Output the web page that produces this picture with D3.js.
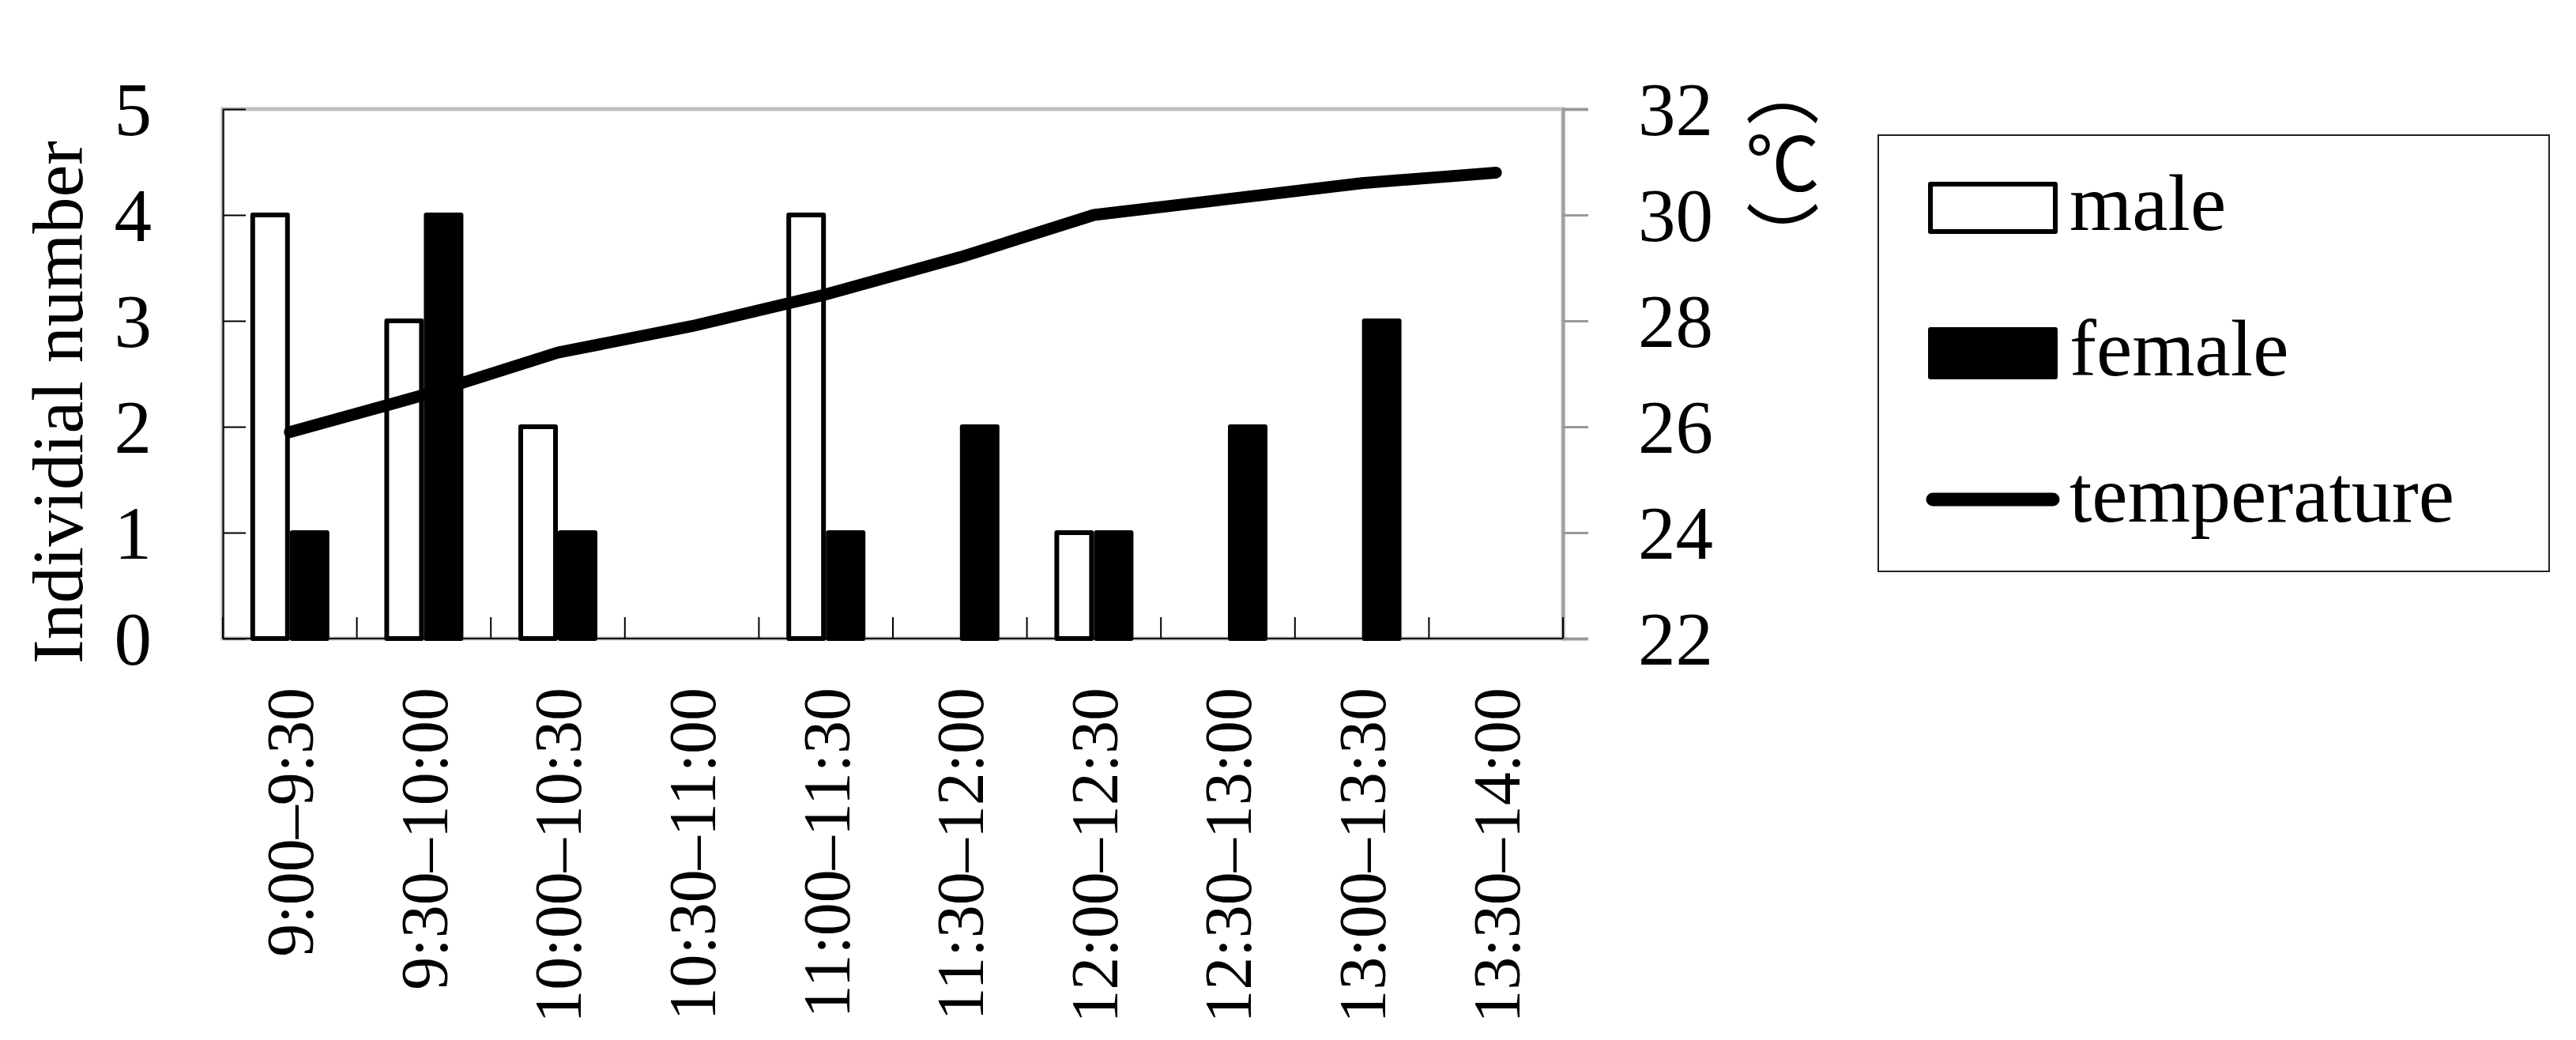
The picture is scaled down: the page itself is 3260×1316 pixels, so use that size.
<!DOCTYPE html>
<html>
<head>
<meta charset="utf-8">
<script src="https://cdn.jsdelivr.net/npm/d3@7"></script>
<style>
  body { margin: 0; background: #fff; }
  text { font-family: "Liberation Serif", "Times New Roman", serif; fill: #000; }
</style>
</head>
<body>
<div id="chart"></div>
<script>
var categories = ["9:00\u20139:30", "9:30\u201310:00", "10:00\u201310:30", "10:30\u201311:00", "11:00\u201311:30",
                  "11:30\u201312:00", "12:00\u201312:30", "12:30\u201313:00", "13:00\u201313:30", "13:30\u201314:00"];
var maleCounts = [4, 3, 2, 0, 4, 0, 1, 0, 0, 0];
var femaleCounts = [1, 4, 1, 0, 1, 2, 1, 2, 3, 0];
var temperatures = [25.9, 26.6, 27.4, 27.9, 28.5, 29.2, 30.0, 30.3, 30.6, 30.8];
var countTicks = [0, 1, 2, 3, 4, 5];
var tempTicks = [22, 24, 26, 28, 30, 32];
var seriesNames = ["male", "female"];

var margin = {top: 138, right: 1282, bottom: 508, left: 282},
    fullWidth = 3260, fullHeight = 1316,
    width = fullWidth - margin.left - margin.right,
    height = fullHeight - margin.top - margin.bottom;

var svg = d3.select("#chart")
    .append("svg")
    .attr("width", fullWidth)
    .attr("height", fullHeight)
    .style("display", "block");

svg.append("rect").attr("width", fullWidth).attr("height", fullHeight).attr("fill", "#fff");

var g = svg.append("g")
    .attr("transform", "translate(" + margin.left + "," + margin.top + ")");

// scales
var x = d3.scaleBand().domain(categories).range([0, width]).padding(0);
var x1 = d3.scaleBand().domain(seriesNames).range([-50, 50]).padding(0);
var y = d3.scaleLinear().domain([0, 5]).range([height, 0]);
var yT = d3.scaleLinear().domain([22, 32]).range([height, 0]);

// plot frame (grey)
g.append("rect")
  .attr("x", 0).attr("y", 0)
  .attr("width", width).attr("height", height)
  .attr("fill", "none")
  .attr("stroke", "#c0c0c0")
  .attr("stroke-width", 5);

// right axis (temperature)
var rightAxis = g.append("g")
  .attr("transform", "translate(" + width + ",0)")
  .call(d3.axisRight(yT).tickValues(tempTicks).tickSize(32).tickPadding(63).tickFormat(d3.format("d")));
rightAxis.select(".domain").attr("stroke", "#a0a0a0").attr("stroke-width", 4);
rightAxis.selectAll(".tick line").attr("stroke", "#999").attr("stroke-width", 3);
rightAxis.selectAll(".tick text")
  .style("font-family", "Liberation Serif, serif")
  .style("font-size", "95px")
  .attr("dy", "0.34em");

// left axis (counts), ticks point inward
var leftAxis = g.append("g")
  .call(d3.axisLeft(y).tickValues(countTicks).tickSize(-29).tickPadding(90).tickSizeOuter(0).tickFormat(d3.format("d")));
leftAxis.select(".domain").attr("stroke", "#000").attr("stroke-width", 2);
leftAxis.selectAll(".tick line").attr("stroke", "#000").attr("stroke-width", 2);
leftAxis.selectAll(".tick text")
  .style("font-family", "Liberation Serif, serif")
  .style("font-size", "95px")
  .attr("dy", "0.34em");

// bottom axis: ticks on band boundaries pointing up
var boundaries = d3.range(categories.length + 1).map(function(i) { return i * x.step(); });
var bottom = g.append("g").attr("transform", "translate(0," + height + ")");
bottom.append("line")
  .attr("x1", 0).attr("x2", width)
  .attr("stroke", "#000").attr("stroke-width", 2);
bottom.selectAll("line.tk")
  .data(boundaries)
  .enter().append("line")
  .attr("class", "tk")
  .attr("x1", function(d) { return d; })
  .attr("x2", function(d) { return d; })
  .attr("y1", 0).attr("y2", -27)
  .attr("stroke", "#000").attr("stroke-width", 2);
bottom.selectAll("text")
  .data(categories)
  .enter().append("text")
  .attr("transform", function(d) {
      return "translate(" + (x(d) + x.bandwidth() / 2) + ",62) rotate(-90)";
  })
  .attr("text-anchor", "end")
  .attr("dy", "0.35em")
  .style("font-size", "84px")
  .text(function(d) { return d; });

// bars
var groups = g.selectAll("g.cat")
  .data(categories)
  .enter().append("g")
  .attr("class", "cat")
  .attr("transform", function(d) { return "translate(" + (x(d) + x.bandwidth() / 2) + ",0)"; });

groups.each(function(d, i) {
    var vals = [{k: "male", v: maleCounts[i]}, {k: "female", v: femaleCounts[i]}];
    d3.select(this).selectAll("rect")
      .data(vals.filter(function(e) { return e.v > 0; }))
      .enter().append("rect")
      .attr("x", function(e) { return x1(e.k) + 3; })
      .attr("width", x1.bandwidth() - 6)
      .attr("y", function(e) { return y(e.v); })
      .attr("height", function(e) { return height - y(e.v); })
      .attr("fill", function(e) { return e.k === "male" ? "#fff" : "#000"; })
      .attr("stroke", "#000")
      .attr("stroke-width", 6)
      .attr("stroke-linejoin", "round");
});

// temperature line
var line = d3.line()
  .x(function(d, i) { return x(categories[i]) + x.bandwidth() / 2; })
  .y(function(d) { return yT(d); });

g.append("path")
  .datum(temperatures)
  .attr("fill", "none")
  .attr("stroke", "#000")
  .attr("stroke-width", 15)
  .attr("stroke-linecap", "round")
  .attr("stroke-linejoin", "round")
  .attr("d", line);

// axis titles
svg.append("text")
  .attr("transform", "translate(104," + (margin.top + height / 2 + 36) + ") rotate(-90)")
  .attr("text-anchor", "middle")
  .style("font-size", "92px")
  .text("Individial number");

// unit label written vertically: （℃）
svg.append("text")
  .attr("x", 2256)
  .attr("y", 207)
  .attr("text-anchor", "middle")
  .style("font-family", "'Noto Sans CJK JP', 'Noto Sans CJK SC', serif")
  .style("writing-mode", "vertical-rl")
  .style("dominant-baseline", "central")
  .style("font-size", "94px")
  .text("\uff08\u2103\uff09");

// legend
var legend = svg.append("g");
legend.append("rect")
  .attr("x", 2377).attr("y", 171)
  .attr("width", 849).attr("height", 552)
  .attr("fill", "#fff")
  .attr("stroke", "#222")
  .attr("stroke-width", 2);

var legendRows = [
  {name: "male", y: 263, type: "box", fill: "#fff"},
  {name: "female", y: 447, type: "box", fill: "#000"},
  {name: "temperature", y: 632, type: "line"}
];

legendRows.forEach(function(r) {
    if (r.type === "box") {
        legend.append("rect")
          .attr("x", 2443).attr("y", r.y - 30)
          .attr("width", 158).attr("height", 60)
          .attr("fill", r.fill)
          .attr("stroke", "#000")
          .attr("stroke-width", 6)
          .attr("stroke-linejoin", "round");
    } else {
        legend.append("line")
          .attr("x1", 2446).attr("x2", 2598)
          .attr("y1", r.y).attr("y2", r.y)
          .attr("stroke", "#000")
          .attr("stroke-width", 17)
          .attr("stroke-linecap", "round");
    }
    legend.append("text")
      .attr("x", 2619)
      .attr("y", r.y + 28)
      .style("font-size", "102px")
      .text(r.name);
});
</script>
</body>
</html>
